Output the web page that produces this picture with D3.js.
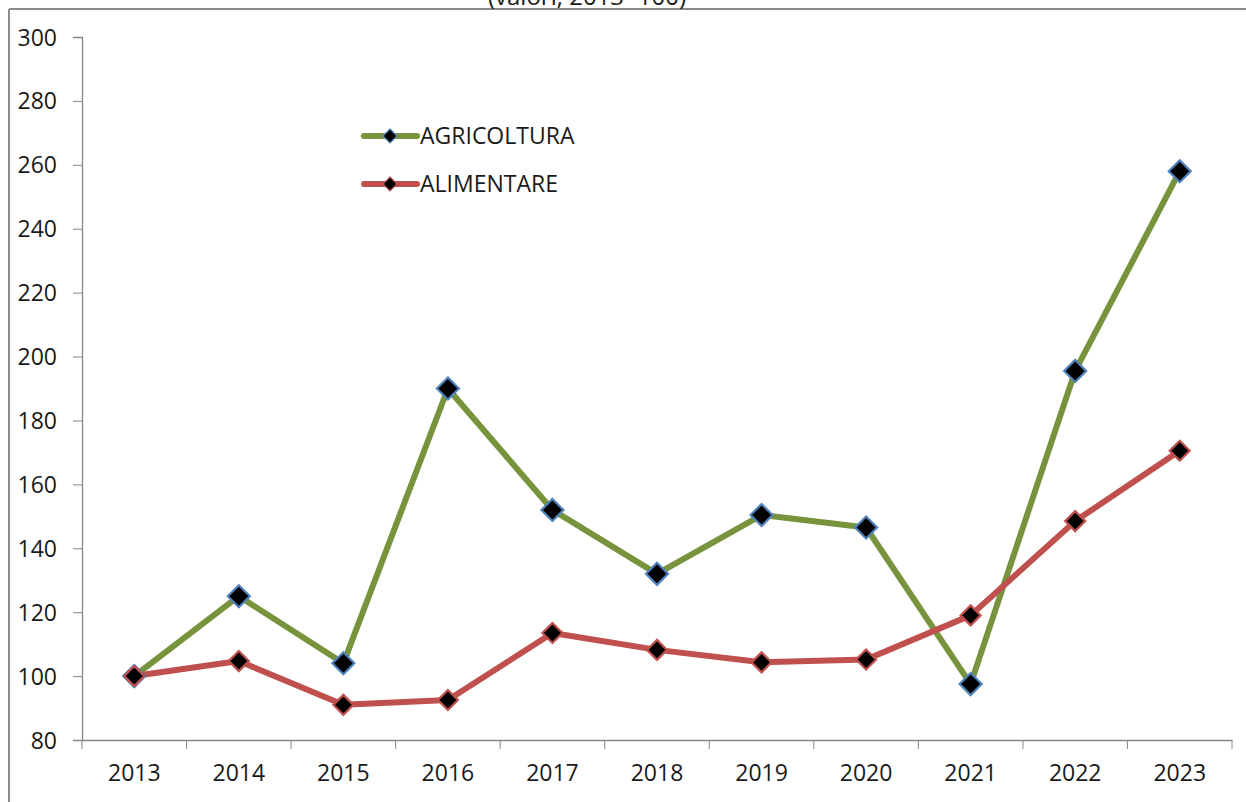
<!DOCTYPE html>
<html>
<head>
<meta charset="utf-8">
<script src="https://cdn.jsdelivr.net/npm/d3@7"></script>
<style>
  body { margin: 0; background: #fff; }
  svg text { font-family: "Open Sans", "Noto Sans", sans-serif; fill: #1a1a1a; }
</style>
</head>
<body>
<div id="chart"></div>
<script>
// data
const years = ["2013", "2014", "2015", "2016", "2017", "2018", "2019", "2020", "2021", "2022", "2023"];
const agricoltura = [100, 125, 104, 190, 152, 132, 150.4, 146.5, 97.5, 195.5, 258];
const alimentare = [100, 104.7, 91, 92.5, 113.5, 108.2, 104.3, 105.2, 119, 148.5, 170.5];
const yTicks = [80, 100, 120, 140, 160, 180, 200, 220, 240, 260, 280, 300];

const series = [
    { name: "AGRICOLTURA", values: agricoltura, color: "#77933C", marker: "#4F81BD", size: 11 },
    { name: "ALIMENTARE", values: alimentare, color: "#C0504D", marker: "#C0504D", size: 10 }
];

var W = 1246, H = 802;
var margin = { top: 37, right: 14, bottom: 62, left: 82 },
    width = W - margin.left - margin.right,
    height = H - margin.top - margin.bottom;

var root = d3.select("#chart").append("svg")
    .attr("width", W)
    .attr("height", H);

// outer frame (top and left edges visible)
root.append("line").attr("x1", 9).attr("x2", W).attr("y1", 9).attr("y2", 9)
    .attr("stroke", "#8c8c8c").attr("stroke-width", 2);
root.append("line").attr("x1", 9).attr("x2", 9).attr("y1", 9).attr("y2", H)
    .attr("stroke", "#8c8c8c").attr("stroke-width", 2);

// title, mostly clipped above the frame
root.append("text")
    .attr("x", 587).attr("y", 5)
    .attr("text-anchor", "middle")
    .style("font-size", "24px")
    .text("(valori, 2013=100)");

var svg = root.append("g")
    .attr("transform", "translate(" + margin.left + "," + margin.top + ")");

var x = d3.scaleBand().domain(years).range([0, width]);
var y = d3.scaleLinear().domain([80, 300]).range([height, 0]);

// y axis
var yAxis = svg.append("g")
    .call(d3.axisLeft(y).tickValues(yTicks).tickSize(9).tickPadding(16));
// x axis, ticks on band boundaries
var xAxis = svg.append("g")
    .attr("transform", "translate(0," + height + ")")
    .call(d3.axisBottom(x).tickSize(0).tickPadding(25));
xAxis.selectAll(".bound")
    .data(d3.range(years.length + 1))
    .enter().append("line")
    .attr("class", "bound")
    .attr("x1", function (i) { return i * x.step(); })
    .attr("x2", function (i) { return i * x.step(); })
    .attr("y1", 0).attr("y2", 9)
    .attr("stroke", "#868686");

[yAxis, xAxis].forEach(function (a) {
    a.select(".domain").attr("stroke", "#868686").attr("stroke-width", 1.3);
    a.selectAll(".tick line").attr("stroke", "#868686");
    a.selectAll(".tick text").style("font-size", "23px").style("font-family", "'Open Sans', sans-serif").attr("fill", "#1a1a1a");
});
yAxis.selectAll(".tick text").attr("dy", "0.35em");

function cx(i) { return x(years[i]) + x.bandwidth() / 2; }

var line = d3.line()
    .x(function (d, i) { return cx(i); })
    .y(function (d) { return y(d); });

function diamond(s) {
    return "M0," + (-s) + "L" + s + ",0L0," + s + "L" + (-s) + ",0Z";
}

series.forEach(function (s) {
    svg.append("path")
        .datum(s.values)
        .attr("d", line)
        .attr("fill", "none")
        .attr("stroke", s.color)
        .attr("stroke-width", 6)
        .attr("stroke-linejoin", "round");
});
series.forEach(function (s) {
    svg.selectAll(null)
        .data(s.values)
        .enter().append("path")
        .attr("d", diamond(s.size))
        .attr("transform", function (d, i) { return "translate(" + cx(i) + "," + y(d) + ")"; })
        .attr("fill", "#000")
        .attr("stroke", s.marker)
        .attr("stroke-width", 2.2);
});

// legend
var legend = root.append("g");
series.forEach(function (s, k) {
    var ly = 136 + k * 48;
    legend.append("line")
        .attr("x1", 364).attr("x2", 417).attr("y1", ly).attr("y2", ly)
        .attr("stroke", s.color).attr("stroke-width", 6).attr("stroke-linecap", "round");
    legend.append("path")
        .attr("d", diamond(7))
        .attr("transform", "translate(390," + ly + ")")
        .attr("fill", "#000").attr("stroke", s.marker).attr("stroke-width", 1.2);
    legend.append("text")
        .attr("x", 420).attr("y", ly)
        .attr("dy", "0.35em")
        .style("font-size", "23px")
        .text(s.name);
});
</script>
</body>
</html>
